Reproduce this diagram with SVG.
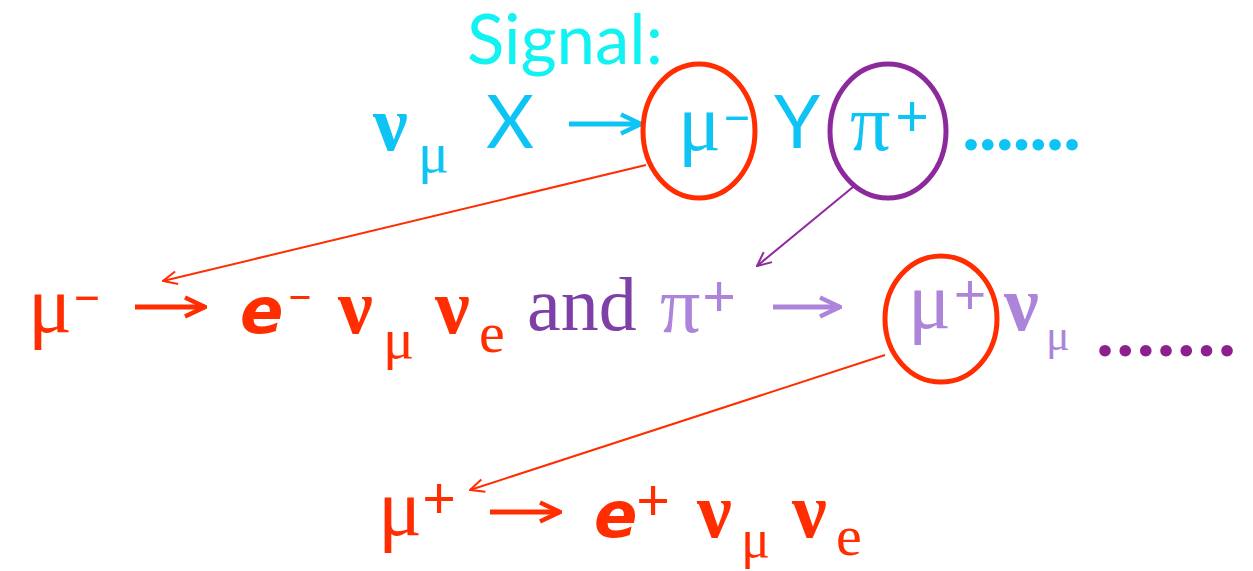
<svg xmlns="http://www.w3.org/2000/svg" width="1253" height="571" viewBox="0 0 1253 571">
<defs>
<style>
.g{font-family:"Liberation Serif","DejaVu Serif",serif}
.n{font-family:"Liberation Serif","DejaVu Serif",serif;font-weight:bold}
.s{font-family:Lato,"Open Sans","Liberation Sans",sans-serif}
.c{font-family:Lato,"Open Sans","Liberation Sans",sans-serif;text-anchor:middle}
.e{font-family:"DejaVu Sans","Liberation Sans",sans-serif;font-weight:bold;font-style:italic}
.cy{fill:#0EC4F4}
.rd{fill:#FF2D00}
.lp{fill:#AC84D9}
</style>
<marker id="ar" viewBox="0 0 16 16" refX="15" refY="8" markerWidth="16" markerHeight="16" markerUnits="userSpaceOnUse" orient="auto">
<path d="M1,1.5 L15,8 L1,14.5" fill="none" stroke="context-stroke" stroke-width="2"/>
</marker>
<marker id="ar2" viewBox="0 0 24 24" refX="22" refY="12" markerWidth="24" markerHeight="24" markerUnits="userSpaceOnUse" orient="auto">
<path d="M2,2.5 L22,12 L2,21.5" fill="none" stroke="context-stroke" stroke-width="4.5"/>
</marker>
</defs>
<rect width="1253" height="571" fill="#fff"/>

<g id="title">
<text x="467" y="64" class="s" font-size="69" fill="#12F2F2">Signal:</text>
</g>

<g id="row1">
<text x="373" y="150" class="n cy" font-size="78">ν</text>
<text x="418" y="172" class="g cy" font-size="58">μ</text>
<text x="486" y="148" class="s cy" font-size="74">X</text>
<line x1="569" y1="124" x2="641" y2="124" stroke="#0EC4F4" stroke-width="5" marker-end="url(#ar2)"/>
</g>

<g id="mu-minus-1">
<ellipse cx="699" cy="131" rx="56" ry="67" fill="none" stroke="#FF2D00" stroke-width="5"/>
<text x="678" y="150" class="g cy" font-size="80">μ</text>
<text x="737" y="135" class="c cy" font-size="50">−</text>
</g>

<g id="Y">
<text x="774" y="148" class="s cy" font-size="74">Y</text>
</g>

<g id="pi-plus-1">
<ellipse cx="888" cy="131" rx="58" ry="67" fill="none" stroke="#8C2A9D" stroke-width="5"/>
<text x="850" y="150" class="g cy" font-size="80">π</text>
<text x="912" y="136" class="c cy" font-size="58">+</text>
</g>

<g id="dots-1">
<text x="962" y="150" class="s cy" font-size="76" font-weight="bold" textLength="119" lengthAdjust="spacing">.......</text>
</g>

<g id="row2">
<text x="28" y="332" class="g rd" font-size="82">μ</text>
<text x="87" y="315" class="c rd" font-size="50">−</text>
<line x1="135" y1="307" x2="205" y2="307" stroke="#FF2D00" stroke-width="5" marker-end="url(#ar2)"/>
<text x="240" y="333" class="e rd" font-size="64">e</text>
<text x="300" y="313" class="c rd" font-size="44">−</text>
<text x="338" y="333" class="n rd" font-size="78">ν</text>
<text x="383" y="358" class="g rd" font-size="58">μ</text>
<text x="435" y="333" class="n rd" font-size="78">ν</text>
<text x="479" y="352" class="g rd" font-size="58">e</text>
<text x="527" y="330" class="g" font-size="76" fill="#7E3FA7">and</text>
<text x="660" y="332" class="g lp" font-size="80">π</text>
<text x="719" y="316" class="c lp" font-size="58">+</text>
<line x1="773" y1="307" x2="840" y2="307" stroke="#AC84D9" stroke-width="5" marker-end="url(#ar2)"/>
</g>

<g id="mu-plus-1">
<ellipse cx="941" cy="319" rx="56" ry="63" fill="none" stroke="#FF2D00" stroke-width="5"/>
<text x="908" y="328" class="g lp" font-size="80">μ</text>
<text x="970" y="314" class="c lp" font-size="56">+</text>
</g>

<g id="row2-end">
<text x="1004" y="330" class="n lp" font-size="78">ν</text>
<text x="1046" y="350" class="g lp" font-size="44">μ</text>
<text x="1096" y="356" class="s" font-size="76" font-weight="bold" fill="#8E1F8E" textLength="140" lengthAdjust="spacing">.......</text>
</g>

<g id="row3">
<text x="378" y="535" class="g rd" font-size="82">μ</text>
<text x="439" y="518" class="c rd" font-size="58">+</text>
<line x1="490" y1="512" x2="560" y2="512" stroke="#FF2D00" stroke-width="5" marker-end="url(#ar2)"/>
<text x="594" y="537" class="e rd" font-size="64">e</text>
<text x="653" y="520" class="c rd" font-size="58">+</text>
<text x="697" y="537" class="n rd" font-size="78">ν</text>
<text x="741" y="557" class="g rd" font-size="54">μ</text>
<text x="792" y="537" class="n rd" font-size="78">ν</text>
<text x="836" y="555" class="g rd" font-size="58">e</text>
</g>

<g id="connectors" fill="none">
<line x1="646" y1="165" x2="163" y2="281" stroke="#FF2D00" stroke-width="2" marker-end="url(#ar)"/>
<line x1="853" y1="187" x2="757" y2="266" stroke="#8C2A9D" stroke-width="2" marker-end="url(#ar)"/>
<line x1="885" y1="355" x2="470" y2="490" stroke="#FF2D00" stroke-width="2" marker-end="url(#ar)"/>
</g>
</svg>
